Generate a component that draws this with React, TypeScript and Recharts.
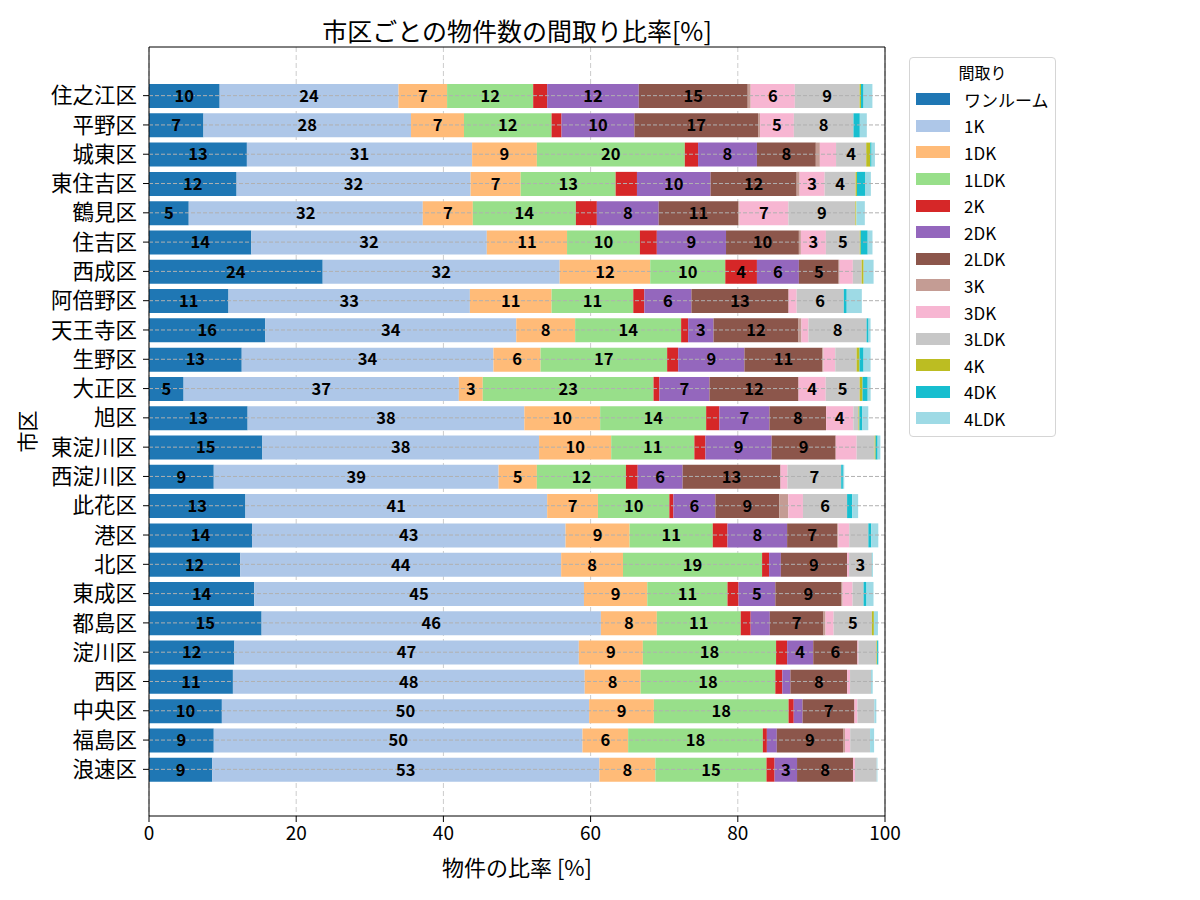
import React from 'react';
import {
  BarChart, Bar, XAxis, YAxis, CartesianGrid, ReferenceLine, LabelList,
} from 'recharts';

const FONT = '"Noto Sans CJK JP", "Noto Sans", sans-serif';

const cities = [
  '住之江区', '平野区', '城東区', '東住吉区', '鶴見区', '住吉区', '西成区', '阿倍野区',
  '天王寺区', '生野区', '大正区', '旭区', '東淀川区', '西淀川区', '此花区', '港区',
  '北区', '東成区', '都島区', '淀川区', '西区', '中央区', '福島区', '浪速区',
];

// share of listings per layout [%], one value per city (same order as cities)
const oneRoom = [9.6, 7.4, 13.3, 11.9, 5.4, 13.9, 23.6, 10.8, 15.8, 12.6, 4.7, 13.4, 15.4, 8.8, 13.1, 14.0, 12.4, 14.3, 15.3, 11.6, 11.4, 9.9, 8.8, 8.6];
const k1 = [24.3, 28.2, 30.6, 31.8, 31.8, 32.0, 32.2, 32.8, 34.1, 34.2, 37.4, 37.6, 37.6, 38.7, 41.0, 42.6, 43.6, 44.8, 46.1, 46.8, 47.8, 49.9, 50.1, 52.6];
const dk1 = [6.6, 7.2, 8.8, 6.8, 6.8, 10.9, 12.3, 11.1, 8.0, 6.4, 3.25, 10.3, 9.8, 5.2, 6.9, 8.7, 8.4, 8.6, 7.6, 8.7, 7.6, 8.8, 6.2, 7.6];
const ldk1 = [11.7, 11.9, 20.1, 12.9, 14.0, 9.9, 10.2, 11.1, 14.4, 17.2, 23.2, 14.4, 11.3, 12.1, 9.7, 11.3, 18.9, 10.9, 11.4, 18.1, 18.3, 18.3, 18.3, 15.1];
const k2 = [1.9, 1.35, 1.8, 2.9, 2.85, 2.3, 4.3, 1.5, 0.95, 1.5, 0.8, 1.8, 1.5, 1.6, 0.55, 2.0, 0.95, 1.5, 1.35, 1.5, 0.95, 0.7, 0.55, 1.1];
const dk2 = [12.45, 9.9, 8.0, 10.0, 8.4, 9.4, 5.7, 6.4, 3.45, 9.0, 6.8, 6.8, 9.0, 6.1, 5.7, 8.1, 1.6, 5.0, 2.6, 3.55, 1.1, 1.2, 1.35, 3.05];
const ldk2 = [14.8, 16.8, 8.0, 11.7, 10.8, 9.9, 5.4, 13.2, 11.55, 10.6, 12.1, 7.7, 8.7, 13.3, 8.7, 6.8, 9.0, 9.0, 7.3, 6.0, 7.7, 7.05, 9.0, 7.6];
const k3 = [0.4, 0.27, 0.55, 0.4, 0.18, 0.27, 0.13, 0, 0.4, 0.14, 0, 0, 0, 0, 1.2, 0.14, 0, 0.14, 0.27, 0, 0, 0, 0.27, 0];
const dk3 = [6.0, 4.6, 2.2, 3.4, 6.65, 3.4, 1.8, 1.1, 0.95, 1.6, 3.7, 3.7, 2.85, 0.95, 2.0, 1.5, 0.27, 1.35, 1.1, 0.14, 0.4, 0.4, 0.7, 0.27];
const ldk3 = [8.8, 8.1, 4.1, 4.2, 9.1, 4.6, 1.2, 6.4, 7.9, 2.9, 4.6, 0.7, 2.45, 7.3, 6.0, 2.6, 3.1, 1.5, 5.2, 2.45, 2.85, 2.3, 2.7, 2.95];
const k4 = [0.18, 0, 0.55, 0.18, 0.13, 0.13, 0.27, 0, 0, 0.4, 0.4, 0.13, 0.13, 0, 0, 0, 0, 0, 0.27, 0.09, 0, 0, 0, 0];
const dk4 = [0.36, 0.86, 0.18, 1.1, 0, 0.95, 0, 0.4, 0.27, 0.55, 0.7, 0.4, 0.27, 0.23, 0.7, 0.4, 0.05, 0.4, 0, 0.14, 0, 0, 0, 0];
const ldk4 = [1.2, 0.95, 0.45, 0.8, 1.15, 0.65, 1.35, 2.05, 0.27, 0.95, 0.4, 0.8, 0.37, 0.18, 0.8, 0.95, 0.1, 0.95, 0.55, 0.05, 0.23, 0.27, 0.55, 0.1];

const xTicks = [0, 20, 40, 60, 80, 100];

const series = [
  { key: 'ワンルーム', values: oneRoom, color: '#1f77b4' },
  { key: '1K', values: k1, color: '#aec7e8' },
  { key: '1DK', values: dk1, color: '#ffbb78' },
  { key: '1LDK', values: ldk1, color: '#98df8a' },
  { key: '2K', values: k2, color: '#d62728' },
  { key: '2DK', values: dk2, color: '#9467bd' },
  { key: '2LDK', values: ldk2, color: '#8c564b' },
  { key: '3K', values: k3, color: '#c49c94' },
  { key: '3DK', values: dk3, color: '#f7b6d2' },
  { key: '3LDK', values: ldk3, color: '#c7c7c7' },
  { key: '4K', values: k4, color: '#bcbd22' },
  { key: '4DK', values: dk4, color: '#17becf' },
  { key: '4LDK', values: ldk4, color: '#9edae5' },
];

const data = cities.map((name, i) => {
  const row: Record<string, string | number> = { name };
  series.forEach((s) => { row[s.key] = s.values[i]; });
  return row;
});

const fmt = (v: any) => (Number(v) >= 3 ? String(Math.round(Number(v))) : '');

const YTitle = ({ viewBox }: any) => {
  const cx = viewBox.x + 26;
  const cy = viewBox.y + viewBox.height / 2;
  return (
    <text x={cx} y={cy} transform={`rotate(-90 ${cx} ${cy})`} textAnchor="middle"
      dominantBaseline="central" fontSize={21} fill="#000">市区</text>
  );
};

const LegendBox = () => (
  <div style={{
    position: 'absolute', left: 909, top: 57, width: 147, height: 380,
    border: '1px solid #d5d5d5', borderRadius: 4, background: '#fff', boxSizing: 'border-box',
  }}>
    <div style={{ textAlign: 'center', fontSize: 16, height: 28, lineHeight: '28px' }}>間取り</div>
    <div>
      {series.map((s) => (
        <div key={s.key} style={{ display: 'flex', alignItems: 'center', height: 26.6 }}>
          <div style={{ width: 34, height: 12, background: s.color, marginLeft: 6 }} />
          <div style={{ marginLeft: 14, fontSize: 17, color: '#000' }}>{s.key}</div>
        </div>
      ))}
    </div>
  </div>
);

export default function App() {
  return (
    <div style={{ position: 'relative', width: 1200, height: 900, fontFamily: FONT, background: '#fff' }}>
      <style>{'body{margin:0}'}</style>
      <div style={{
        position: 'absolute', left: 149, top: 10, width: 736, textAlign: 'center',
        fontSize: 25, lineHeight: '40px', color: '#000',
      }}>市区ごとの物件数の間取り比率[%]</div>
      <BarChart
        width={1200}
        height={900}
        data={data}
        layout="vertical"
        margin={{ top: 46, right: 314, bottom: 0, left: 0 }}
        barSize={24}
      >
        <CartesianGrid horizontal={false} stroke="#cccccc" strokeDasharray="5 3" />
        <XAxis
          type="number"
          domain={[0, 100]}
          ticks={xTicks}
          height={84}
          tickMargin={5}
          tick={{ fill: '#000', fontSize: 19 }}
          tickLine={{ stroke: '#000' }}
          axisLine={{ stroke: '#000' }}
          label={{ value: '物件の比率 [%]', position: 'insideBottom', offset: 24, fontSize: 22, fill: '#000' }}
        />
        <XAxis xAxisId="top" orientation="top" type="number" domain={[0, 100]} height={1}
          tick={false} tickLine={false} axisLine={{ stroke: '#000' }} />
        <YAxis
          type="category"
          dataKey="name"
          width={149}
          interval={0}
          tickMargin={6}
          padding={{ top: 34, bottom: 32 }}
          tick={{ fill: '#000', fontSize: 21.5 }}
          tickLine={{ stroke: '#000' }}
          axisLine={{ stroke: '#000' }}
          label={<YTitle />}
        />
        <YAxis yAxisId="right" orientation="right" type="number" domain={[0, 1]} width={1}
          tick={false} tickLine={false} axisLine={{ stroke: '#000' }} />
        {series.map((s) => (
          <Bar key={s.key} dataKey={s.key} stackId="a" fill={s.color} isAnimationActive={false}>
            <LabelList dataKey={s.key} position="center" formatter={fmt}
              fill="#000" fontSize={16.5} fontWeight="bold" />
          </Bar>
        ))}
        {cities.map((c) => (
          <ReferenceLine key={c} y={c} stroke="#b0b0b0" strokeDasharray="4 2" />
        ))}
      </BarChart>
      <LegendBox />
    </div>
  );
}
